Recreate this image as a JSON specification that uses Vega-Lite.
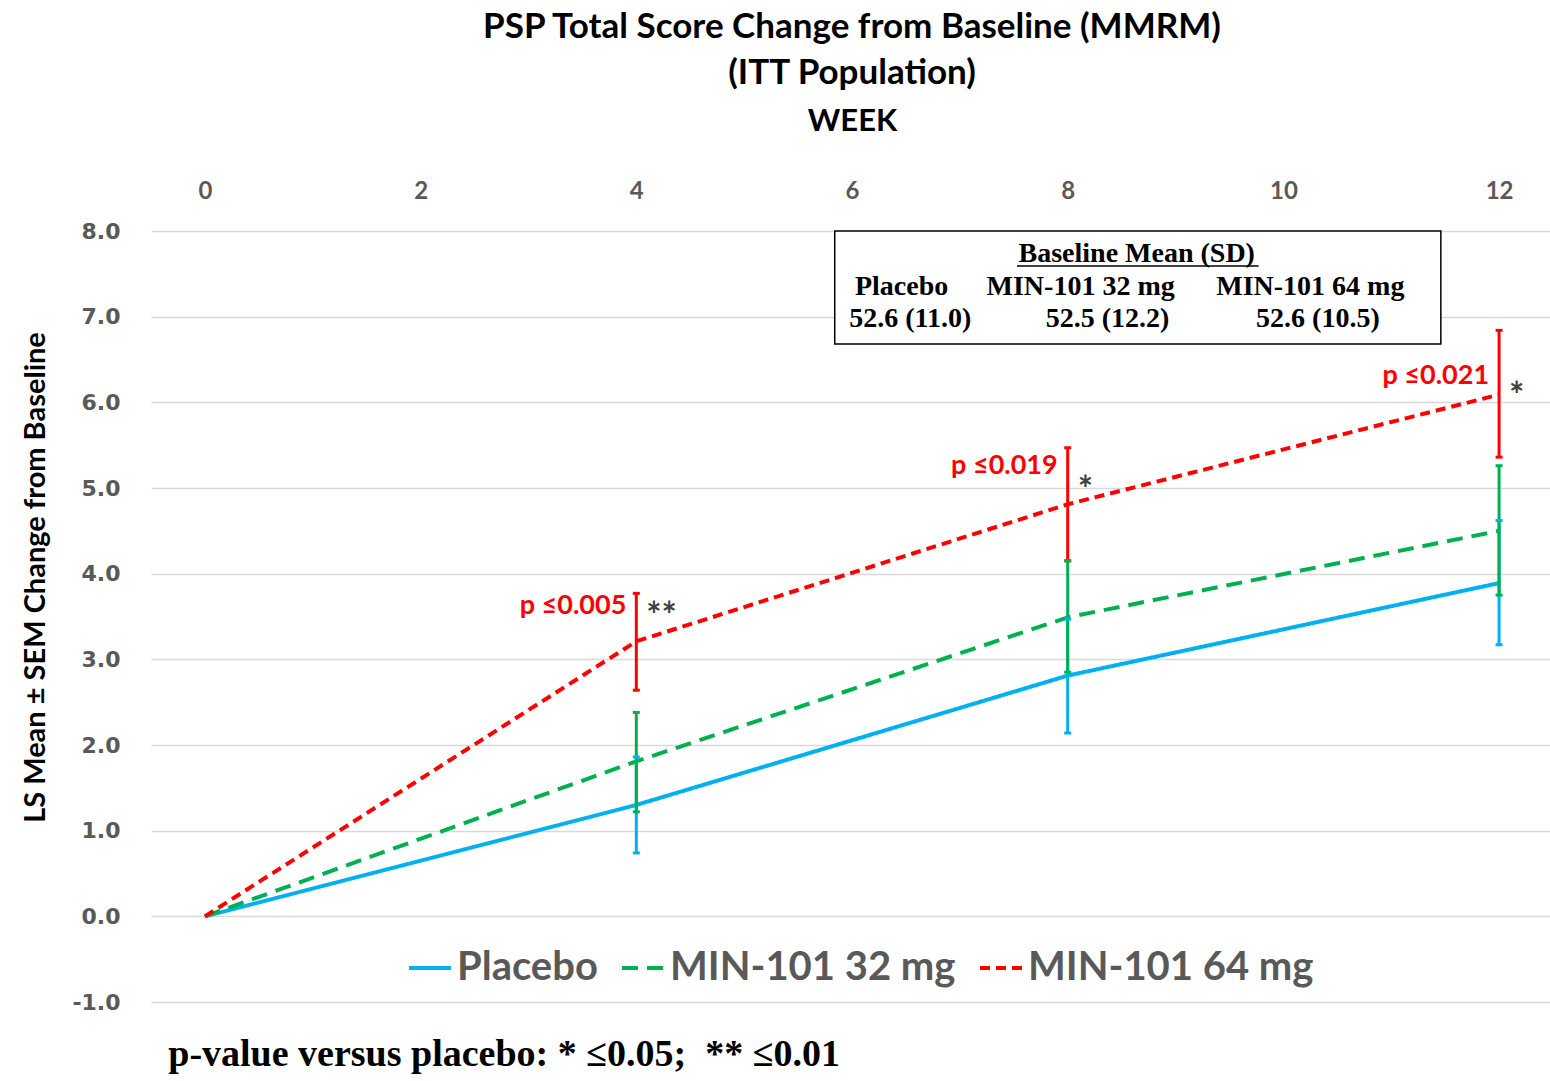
{
  "$schema": "https://vega.github.io/schema/vega-lite/v6.json",
  "width": 1402,
  "height": 771,
  "autosize": {"type": "none"},
  "padding": {"left": 151, "top": 231, "right": 0, "bottom": 79},
  "background": "white",
  "title": {
    "text": ["PSP Total Score Change from Baseline (MMRM)", "(ITT Population)"],
    "font": "Lato", "fontSize": 35, "fontWeight": "bold", "color": "black",
    "lineHeight": 46, "anchor": "middle", "offset": 14
  },
  "config": {
    "view": {"stroke": null},
    "axisY": {
      "gridColor": "#d9d9d9", "gridWidth": 1.5,
      "labelFont": "DejaVu Sans", "labelFontSize": 22, "labelFontWeight": "bold", "labelColor": "#595959",
      "ticks": false, "tickSize": 0, "domain": false, "labelPadding": 31
    },
    "axisX": {
      "grid": false, "ticks": false, "tickSize": 0, "domain": false,
      "labelFont": "Lato", "labelFontSize": 24, "labelFontWeight": "bold", "labelColor": "#595959",
      "labelPadding": 28
    }
  },
  "datasets": {
    "series": [
      {"week": 0, "group": "Placebo", "value": 0},
      {"week": 4, "group": "Placebo", "value": 1.30, "lo": 0.74, "hi": 1.86},
      {"week": 8, "group": "Placebo", "value": 2.81, "lo": 2.14, "hi": 3.47},
      {"week": 12, "group": "Placebo", "value": 3.89, "lo": 3.17, "hi": 4.62},
      {"week": 0, "group": "MIN-101 32 mg", "value": 0},
      {"week": 4, "group": "MIN-101 32 mg", "value": 1.81, "lo": 1.22, "hi": 2.38},
      {"week": 8, "group": "MIN-101 32 mg", "value": 3.49, "lo": 2.85, "hi": 4.15},
      {"week": 12, "group": "MIN-101 32 mg", "value": 4.50, "lo": 3.75, "hi": 5.26},
      {"week": 0, "group": "MIN-101 64 mg", "value": 0},
      {"week": 4, "group": "MIN-101 64 mg", "value": 3.21, "lo": 2.64, "hi": 3.77},
      {"week": 8, "group": "MIN-101 64 mg", "value": 4.81, "lo": 4.15, "hi": 5.47},
      {"week": 12, "group": "MIN-101 64 mg", "value": 6.09, "lo": 5.36, "hi": 6.84}
    ],
    "pvals": [
      {"week": 4, "value": 3.62, "label": "p ≤0.005"},
      {"week": 8, "value": 5.26, "label": "p ≤0.019"},
      {"week": 12, "value": 6.31, "label": "p ≤0.021"}
    ],
    "stars": [
      {"week": 4, "value": 3.50, "label": "**"},
      {"week": 8, "value": 4.96, "label": "*"},
      {"week": 12, "value": 6.06, "label": "*"}
    ],
    "box": [
      {"week": 5.84, "week2": 11.46, "value": 8.0, "value2": 6.68}
    ],
    "boxtext": [
      {"week": 8.64, "value": 7.73, "label": "Baseline Mean (SD)"},
      {"week": 6.46, "value": 7.35, "label": "Placebo"},
      {"week": 8.12, "value": 7.35, "label": "MIN-101 32 mg"},
      {"week": 10.25, "value": 7.35, "label": "MIN-101 64 mg"},
      {"week": 6.54, "value": 6.97, "label": "52.6 (11.0)"},
      {"week": 8.37, "value": 6.97, "label": "52.5 (12.2)"},
      {"week": 10.32, "value": 6.97, "label": "52.6 (10.5)"}
    ],
    "underline": [
      {"week": 7.53, "week2": 9.77, "value": 7.59}
    ],
    "footer": [
      {"week": -0.34, "value": -1.62, "label": "p-value versus placebo: * ≤0.05;\u00a0\u00a0** ≤0.01"}
    ]
  },
  "layer": [
    {
      "data": {"name": "box"},
      "mark": {"type": "rect", "fill": "white", "stroke": "black", "strokeWidth": 1.5},
      "encoding": {
        "x": {"field": "week", "type": "quantitative",
              "scale": {"domain": [-0.5, 12.5], "nice": false, "zero": false},
              "axis": {"orient": "top", "values": [0, 2, 4, 6, 8, 10, 12], "format": "d", "title": "WEEK",
                       "titleFont": "Lato", "titleFontSize": 31, "titleFontWeight": "bold", "titleColor": "black",
                       "titleX": 701, "titleY": -110, "titleBaseline": "middle", "titleAlign": "center"}},
        "x2": {"field": "week2"},
        "y": {"field": "value", "type": "quantitative",
              "scale": {"domain": [-1, 8], "nice": false, "zero": false},
              "axis": {"values": [-1, 0, 1, 2, 3, 4, 5, 6, 7, 8],
                       "labelExpr": "replace(format(datum.value, '.1f'), '\u2212', '-')",
                       "title": "LS Mean ± SEM Change from Baseline",
                       "titleFont": "Lato", "titleFontSize": 29, "titleFontWeight": "bold", "titleColor": "black",
                       "titleAngle": -90, "titleX": -116, "titleY": 346, "titleAlign": "center", "titleBaseline": "middle"}},
        "y2": {"field": "value2"}
      }
    },
    {
      "data": {"name": "underline"},
      "mark": {"type": "rule", "stroke": "black", "strokeWidth": 1.5},
      "encoding": {
        "x": {"field": "week", "type": "quantitative", "scale": {"domain": [-0.5, 12.5], "nice": false, "zero": false}},
        "x2": {"field": "week2"},
        "y": {"field": "value", "type": "quantitative", "scale": {"domain": [-1, 8], "nice": false, "zero": false}}
      }
    },
    {
      "data": {"name": "boxtext"},
      "mark": {"type": "text", "font": "Liberation Serif", "fontSize": 28, "fontWeight": "bold", "color": "black", "align": "center", "baseline": "middle"},
      "encoding": {
        "x": {"field": "week", "type": "quantitative", "scale": {"domain": [-0.5, 12.5], "nice": false, "zero": false}},
        "y": {"field": "value", "type": "quantitative", "scale": {"domain": [-1, 8], "nice": false, "zero": false}},
        "text": {"field": "label"}
      }
    },
    {
      "data": {"name": "series"},
      "mark": {"type": "line", "strokeWidth": 4},
      "encoding": {
        "x": {"field": "week", "type": "quantitative", "scale": {"domain": [-0.5, 12.5], "nice": false, "zero": false}},
        "y": {"field": "value", "type": "quantitative", "scale": {"domain": [-1, 8], "nice": false, "zero": false}},
        "color": {"field": "group", "type": "nominal",
                  "scale": {"domain": ["Placebo", "MIN-101 32 mg", "MIN-101 64 mg"], "range": ["#00b0f0", "#00b050", "#ff0000"]},
                  "legend": {"orient": "none", "legendX": 256, "legendY": 714, "direction": "horizontal", "title": null,
                             "symbolType": "stroke", "symbolSize": 1764, "symbolStrokeWidth": 4,
                             "labelFont": "Lato", "labelFontSize": 40, "labelFontWeight": "bold", "labelColor": "#595959",
                             "labelLimit": 0, "labelOffset": 4, "columnPadding": 16}},
        "strokeDash": {"field": "group", "type": "nominal",
                  "scale": {"domain": ["Placebo", "MIN-101 32 mg", "MIN-101 64 mg"], "range": [[1, 0], [16, 9], [10, 6]]},
                  "legend": {"orient": "none", "legendX": 256, "legendY": 714, "direction": "horizontal", "title": null,
                             "symbolType": "stroke", "symbolSize": 1764, "symbolStrokeWidth": 4,
                             "labelFont": "Lato", "labelFontSize": 40, "labelFontWeight": "bold", "labelColor": "#595959",
                             "labelLimit": 0, "labelOffset": 4, "columnPadding": 16}},
        "order": {"field": "week", "type": "quantitative"}
      }
    },
    {
      "data": {"name": "series"},
      "transform": [{"filter": "datum.lo != null"}],
      "mark": {"type": "rule", "strokeWidth": 3},
      "encoding": {
        "x": {"field": "week", "type": "quantitative", "scale": {"domain": [-0.5, 12.5], "nice": false, "zero": false}},
        "y": {"field": "lo", "type": "quantitative", "scale": {"domain": [-1, 8], "nice": false, "zero": false}},
        "y2": {"field": "hi"},
        "color": {"field": "group", "type": "nominal", "legend": null}
      }
    },
    {
      "data": {"name": "series"},
      "transform": [{"filter": "datum.lo != null"}],
      "mark": {"type": "tick", "orient": "horizontal", "size": 7, "thickness": 3, "opacity": 1},
      "encoding": {
        "x": {"field": "week", "type": "quantitative", "scale": {"domain": [-0.5, 12.5], "nice": false, "zero": false}},
        "y": {"field": "lo", "type": "quantitative", "scale": {"domain": [-1, 8], "nice": false, "zero": false}},
        "color": {"field": "group", "type": "nominal", "legend": null}
      }
    },
    {
      "data": {"name": "series"},
      "transform": [{"filter": "datum.lo != null"}],
      "mark": {"type": "tick", "orient": "horizontal", "size": 7, "thickness": 3, "opacity": 1},
      "encoding": {
        "x": {"field": "week", "type": "quantitative", "scale": {"domain": [-0.5, 12.5], "nice": false, "zero": false}},
        "y": {"field": "hi", "type": "quantitative", "scale": {"domain": [-1, 8], "nice": false, "zero": false}},
        "color": {"field": "group", "type": "nominal", "legend": null}
      }
    },
    {
      "data": {"name": "pvals"},
      "mark": {"type": "text", "font": "Lato", "fontSize": 27, "fontWeight": "bold", "color": "#ff0000", "align": "right", "baseline": "middle", "dx": -10},
      "encoding": {
        "x": {"field": "week", "type": "quantitative", "scale": {"domain": [-0.5, 12.5], "nice": false, "zero": false}},
        "y": {"field": "value", "type": "quantitative", "scale": {"domain": [-1, 8], "nice": false, "zero": false}},
        "text": {"field": "label"}
      }
    },
    {
      "data": {"name": "stars"},
      "mark": {"type": "text", "font": "Lato", "fontSize": 36, "fontWeight": "bold", "color": "#404040", "align": "left", "baseline": "middle", "dx": 10},
      "encoding": {
        "x": {"field": "week", "type": "quantitative", "scale": {"domain": [-0.5, 12.5], "nice": false, "zero": false}},
        "y": {"field": "value", "type": "quantitative", "scale": {"domain": [-1, 8], "nice": false, "zero": false}},
        "text": {"field": "label"}
      }
    },
    {
      "data": {"name": "footer"},
      "mark": {"type": "text", "font": "Liberation Serif", "fontSize": 38, "fontWeight": "bold", "color": "black", "align": "left", "baseline": "middle"},
      "encoding": {
        "x": {"field": "week", "type": "quantitative", "scale": {"domain": [-0.5, 12.5], "nice": false, "zero": false}},
        "y": {"field": "value", "type": "quantitative", "scale": {"domain": [-1, 8], "nice": false, "zero": false}},
        "text": {"field": "label"}
      }
    }
  ]
}
